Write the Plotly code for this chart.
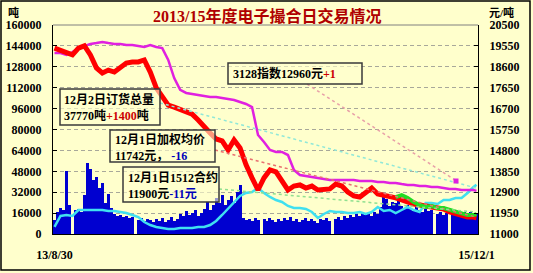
import plotly.graph_objects as go

# ---------------- data ----------------
# daily (sampled) trading volume, tons (left axis)
volume = [10700, 16800, 19900, 18400, 48000, 22000, 0, 18000, 19000, 17000,
          30000, 54000, 50000, 41000, 44000, 35000, 39000, 24000, 31000, 20000,
          15000, 13500, 14500, 13000, 14000, 12000, 13000, 0, 10700, 12000,
          10000, 11500, 10700, 9200, 11500, 10000, 12200, 9000, 10700, 13000,
          10000, 11500, 15300, 13800, 17600, 14500, 16000, 18400, 13800, 16000,
          19000, 24500, 18400, 22000, 27500, 23700, 30000, 22000, 26000, 29000,
          23700, 32000, 37500, 12200, 10700, 11500, 10000, 12200, 10700, 0,
          11500, 10000, 12200, 10700, 9200, 11500, 10000, 12200, 10700, 13000,
          10000, 11500, 9200, 10700, 12200, 10000, 11500, 10000, 8400, 11500,
          10700, 12200, 10000, 0, 11500, 13000, 10700, 13800, 12200, 14500,
          13000, 15300, 13800, 16000, 14500, 16000, 13800, 16800, 15300, 20700,
          28300, 26800, 21400, 24500, 23700, 28300, 21400, 19100, 22200, 19900,
          17600, 20700, 18400, 16800, 19100, 17600, 18400, 0, 15300, 16800,
          14500, 16000, 0, 16800, 15300, 17600, 15300, 16800, 14500, 16800,
          16000, 15300]

# order total, tons (left axis) - cyan
order_total = [5400, 13780, 14550, 13780, 18370, 18370, 18370, 18370, 18370, 17610,
               17610, 16840, 16080, 14550, 13010, 9190, 6890, 5360, 4590, 3830,
               3830, 4590, 4590, 4590, 5360, 5360, 6890, 9950, 14550, 19140,
               23730, 29090, 31390, 32150, 35220, 31390, 28330, 26030, 24500, 21440,
               19900, 19900, 19140, 16840, 12250, 15310, 17610, 16840, 16840, 16080,
               16080, 16840, 15310, 16840, 20670, 17610, 18370, 16080, 18370, 20670,
               18370, 16840, 23730, 23730, 22970, 26030, 26030, 27560, 27560, 31390,
               35980, 37770]

# 3128 index, yuan/ton (right axis) - magenta
index3128 = [19230, 19230, 19140, 19270, 19450, 19550, 19640, 19680, 19730, 19680,
             19640, 19640, 19590, 19590, 19550, 19500, 19590, 19500, 19450, 18910,
             18090, 17550, 17410, 17360, 17320, 17270, 17230, 17230, 17180, 17140,
             17090, 17000, 16910, 16770, 15500, 15180, 14820, 14730, 14730, 14590,
             13910, 13680, 13640, 13590, 13550, 13500, 13450, 13450, 13450, 13450,
             13450, 13410, 13410, 13410, 13360, 13360, 13320, 13320, 13270, 13230,
             13230, 13180, 13180, 13140, 13140, 13090, 13050, 13050, 13000, 13000,
             13000, 12960]

# weighted average price, yuan/ton (right axis) - red
wavg = [19450, 19360, 19230, 19140, 19450, 19550, 19140, 18550, 18320, 18450,
        18360, 18550, 18770, 18820, 18820, 18910, 18360, 17640, 17230, 16860,
        16770, 16680, 16550, 16450, 16180, 15860, 15590, 15320, 15230, 14820,
        15270, 14910, 14140, 13550, 13000, 13550, 13910, 13820, 13360, 13000,
        13180, 13230, 13090, 13180, 13000, 13000, 13050, 13270, 13180, 12910,
        12730, 12680, 12910, 13090, 12820, 12770, 12730, 12640, 12550, 12450,
        12360, 12320, 12270, 12230, 12180, 12140, 12000, 11910, 11860, 11770,
        11770, 11742]

# 1512 contract, yuan/ton (right axis) - green
c1512 = [12680, 12770, 12640, 12450, 12320, 12230, 12270, 12180, 12180, 12090,
         12000, 11910, 11860, 11860, 11900]

x_labels = ["13/8/30", "15/12/1"]
left_ticks = [0, 16000, 32000, 48000, 64000, 80000, 96000, 112000, 128000, 144000, 160000]
right_ticks = [11000, 11950, 12900, 13850, 14800, 15750, 16700, 17650, 18600, 19550, 20500]

bar_x = list(range(len(volume)))
line_x = list(range(0, 141, 2)) + [len(volume) - 1]
green_x = line_x[len(line_x) - len(c1512):]

# ---------------- layout helpers ----------------
W, H = 533, 273
L, R, T, B = 53, 478, 25, 234


def px(x):
    return (x - L) / (R - L)


def py(y):
    return (B - y) / (B - T)


BG = "#FFFFCC"
serif = "Liberation Serif, Noto Sans CJK SC"
cjk = "Liberation Serif, Noto Sans CJK SC"

fig = go.Figure()
fig.add_bar(x=bar_x, y=volume, marker=dict(color="#0000D0", line_width=0), yaxis="y")
fig.add_scatter(x=line_x, y=order_total, mode="lines",
                line=dict(color="#40E0F0", width=2.5), yaxis="y")
fig.add_scatter(x=line_x, y=index3128, mode="lines",
                line=dict(color="#E020E0", width=2.5), yaxis="y2")
fig.add_scatter(x=line_x, y=wavg, mode="lines",
                line=dict(color="#FF0000", width=5), yaxis="y2")
fig.add_scatter(x=green_x, y=c1512, mode="lines",
                line=dict(color="#22DD22", width=4), yaxis="y2")

tickfont = dict(family=serif, size=12, color="black", weight="bold")

fig.update_layout(
    width=W, height=H,
    margin=dict(l=L, r=W - R, t=T, b=H - B, pad=0, autoexpand=False),
    paper_bgcolor=BG, plot_bgcolor=BG,
    showlegend=False, bargap=0,
    xaxis=dict(range=[-0.5, len(volume) - 0.5], tickvals=[0, len(volume) - 1], ticktext=x_labels,
               showgrid=False, zeroline=False, showline=True, linecolor="black", linewidth=1,
               ticks="", tickfont=tickfont, ticklabelstandoff=10),
    yaxis=dict(range=[0, 160000], tickvals=left_ticks, tickformat="d",
               showgrid=True, gridcolor="#A8A89A", griddash="4px,3px", gridwidth=1,
               zeroline=False, showline=True, linecolor="black", linewidth=1,
               ticks="inside", ticklen=4, tickcolor="black",
               tickfont=tickfont, ticklabelstandoff=8),
    yaxis2=dict(overlaying="y", side="right", range=[11000, 20500], tickvals=right_ticks,
                tickformat="d", showgrid=False, zeroline=False, showline=True,
                linecolor="black", linewidth=1, ticks="inside", ticklen=4, tickcolor="black",
                tickfont=tickfont, ticklabelstandoff=8),
)

shapes = []
# top frame line of plot area
shapes.append(dict(type="line", xref="paper", yref="paper", x0=0, x1=1, y0=1, y1=1,
                   line=dict(color="#808080", width=1)))
# outer border
shapes.append(dict(type="rect", xref="paper", yref="paper", x0=px(1), x1=px(530),
                   y0=py(270), y1=py(1), line=dict(color="black", width=1.5)))
# dotted leader lines
leaders = [((307, 84), (455, 180), "#E8A0A8"),
           ((160, 103), (476, 188), "#90E8D8"),
           ((215, 150), (476, 217), "#E87070"),
           ((219, 189), (476, 212), "#90E090")]
for (xa, ya), (xb, yb), col in leaders:
    shapes.append(dict(type="line", xref="paper", yref="paper", x0=px(xa), y0=py(ya),
                       x1=px(xb), y1=py(yb), line=dict(color=col, width=1.5, dash="dot"),
                       layer="above"))
# magenta pointer marker
shapes.append(dict(type="rect", xref="paper", yref="paper", x0=px(453.5), x1=px(458.5),
                   y0=py(183.5), y1=py(178.5), fillcolor="#E020E0", line=dict(width=0),
                   layer="above"))
# annotation boxes (semi transparent)
boxes = [(228, 63, 362, 84), (60, 89, 160, 125), (110, 130, 215, 162), (123, 167, 219, 202)]
for x0, y0, x1, y1 in boxes:
    shapes.append(dict(type="rect", xref="paper", yref="paper", x0=px(x0), x1=px(x1),
                       y0=py(y1), y1=py(y0), line=dict(color="#3A3A3A", width=1.5),
                       fillcolor="rgba(255,255,205,0.6)", layer="above"))
fig.update_layout(shapes=shapes)

RED = "#CC0000"
BLUE = "#0000BB"
texts = [
    (232, 73.5, "3128指数12960元<span style='color:%s'>+1</span>" % RED),
    (63, 107, "12月2日订货总量<br>37770吨<span style='color:%s'>+1400</span>吨" % RED),
    (114, 147, "12月1日加权均价<br>11742元， <span style='color:%s'>-16</span>" % BLUE),
    (127, 185, "12月1日1512合约<br>11900元<span style='color:%s'>-11元</span>" % BLUE),
]
for x, y, t in texts:
    fig.add_annotation(xref="paper", yref="paper", x=px(x), y=py(y), text=t,
                       showarrow=False, xanchor="left", yanchor="middle", align="left",
                       borderpad=0,
                       font=dict(family=cjk, size=12, color="black", weight="bold"))

# title and unit labels
fig.add_annotation(xref="paper", yref="paper", x=px(267), y=py(16),
                   text="2013/15年度电子撮合日交易情况", showarrow=False,
                   xanchor="center", yanchor="middle",
                   font=dict(family=serif, size=16, color="#B00000", weight="bold"))
fig.add_annotation(xref="paper", yref="paper", x=px(13), y=py(12), text="吨",
                   showarrow=False, xanchor="center", yanchor="middle", borderpad=0,
                   font=dict(family=cjk, size=11, color="black", weight="bold"))
fig.add_annotation(xref="paper", yref="paper", x=px(502), y=py(12), text="元/吨",
                   showarrow=False, xanchor="center", yanchor="middle", borderpad=0,
                   font=dict(family=cjk, size=11, color="black", weight="bold"))

fig.write_html("out.html")
